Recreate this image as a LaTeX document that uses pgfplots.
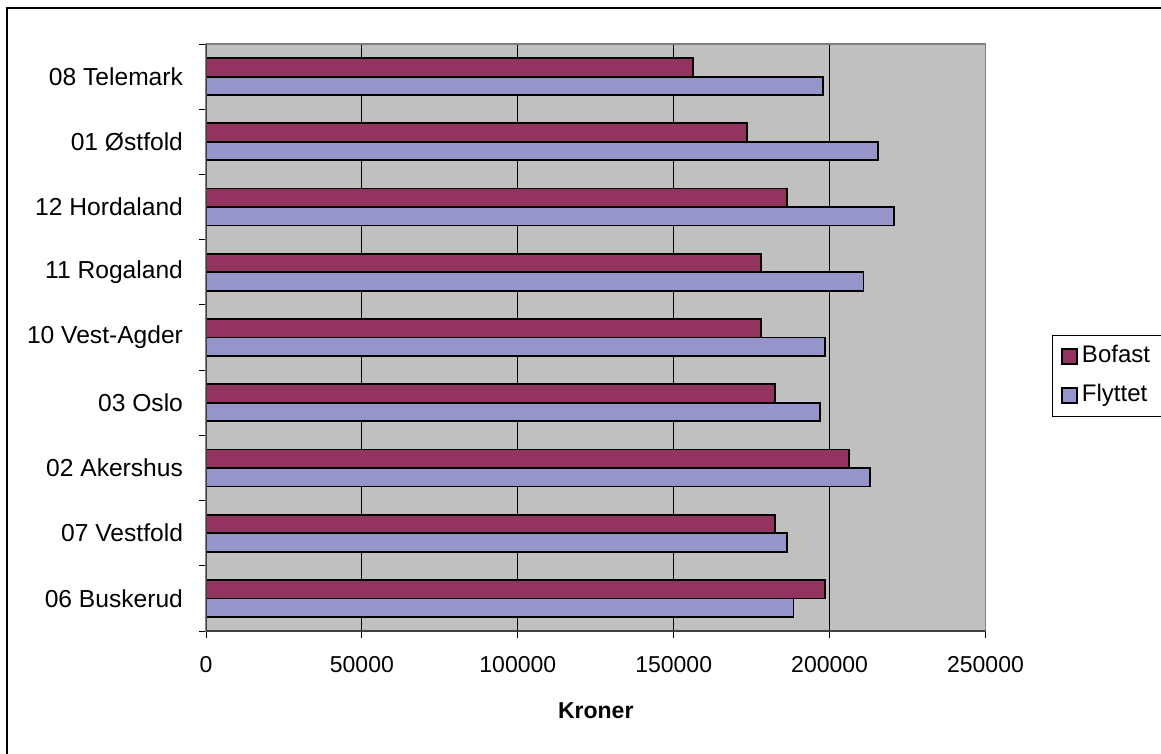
\documentclass[border=0pt]{standalone}
\usepackage{pgfplots}
\pgfplotsset{compat=1.18}
\usepackage{fontspec}
\setmainfont{Liberation Sans}
\definecolor{bofast}{RGB}{147,51,96}
\definecolor{flyttet}{RGB}{149,149,201}
\definecolor{plotbg}{RGB}{192,192,192}
\definecolor{bordergray}{RGB}{128,128,128}
\definecolor{axisdark}{RGB}{64,64,64}
\begin{document}
\fontsize{11.5pt}{13.8pt}\selectfont
\begin{tikzpicture}
\useasboundingbox (0,0) rectangle (580.5pt,-377pt);
\clip (0,0) rectangle (580.5pt,-377pt);
\fill[white] (0,0) rectangle (580.5pt,-377pt);
\draw[black, line width=1pt] (3.5pt,-4pt) rectangle (620pt,-420pt);
\begin{axis}[
  at={(103pt,-315.5pt)}, anchor=south west,
  scale only axis, width=389.75pt, height=293.5pt,
  xmin=0, xmax=250000, ymin=-0.5, ymax=8.5,
  y dir=reverse,
  axis background/.style={fill=plotbg},
  axis line style={draw=bordergray, line width=0.75pt},
  /pgf/number format/assume math mode=true,
  xtick={0,50000,100000,150000,200000,250000},
  scaled x ticks=false,
  xticklabel style={/pgf/number format/fixed, /pgf/number format/1000 sep={}, yshift=-5pt},
  xtick pos=left, ytick pos=left,
  tick align=outside,
  major tick length=3.5pt, minor tick length=3.5pt,
  tick style={black, line width=0.5pt},
  xmajorgrids, major grid style={black, line width=0.5pt},
  ytick={0,1,2,3,4,5,6,7,8},
  yticklabels={08 Telemark, 01 Østfold, 12 Hordaland, 11 Rogaland, 10 Vest-Agder, 03 Oslo, 02 Akershus, 07 Vestfold, 06 Buskerud},
  major y tick style={draw=none},
  minor ytick={-0.5,0.5,1.5,2.5,3.5,4.5,5.5,6.5,7.5,8.5},
  minor y tick style={black, line width=0.5pt},
  yticklabel style={xshift=-4pt, font=\fontsize{12.3pt}{14pt}\selectfont},
  xlabel={\textbf{Kroner}},
  xlabel style={at={(axis description cs:0.5,0)}, anchor=base, yshift=-43.5pt},
  legend style={at={(axis description cs:1.0853,0.5043)}, anchor=north west,
    draw=black, line width=0.5pt, fill=white, inner xsep=4.5pt, inner ysep=3pt,
    row sep=4.5pt, nodes={inner sep=2pt, text depth=2.5pt, text height=8.5pt},
    font=\fontsize{12pt}{14pt}\selectfont},
  legend cell align=left,
  legend image code/.code={\draw[#1, line width=0.75pt] (0pt,-3.75pt) rectangle (7.5pt,3.75pt);},
]
\addplot[xbar, bar width=0.284, bar shift=-0.142, fill=bofast, draw=black, line width=0.9pt]
  coordinates {(156200,0) (173500,1) (186400,2) (178100,3) (178100,4) (182500,5) (206300,6) (182500,7) (198600,8)};
\addlegendentry{Bofast\hspace*{25pt}}
\addplot[xbar, bar width=0.284, bar shift=0.142, fill=flyttet, draw=black, line width=0.9pt]
  coordinates {(198000,0) (215550,1) (220600,2) (210900,3) (198600,4) (196800,5) (212900,6) (186400,7) (188400,8)};
\addlegendentry{Flyttet\hspace*{25pt}}
\draw[axisdark, line width=1pt] (axis description cs:0,1) -- (axis description cs:0,0) -- (axis description cs:1,0);
\end{axis}
\end{tikzpicture}
\end{document}
